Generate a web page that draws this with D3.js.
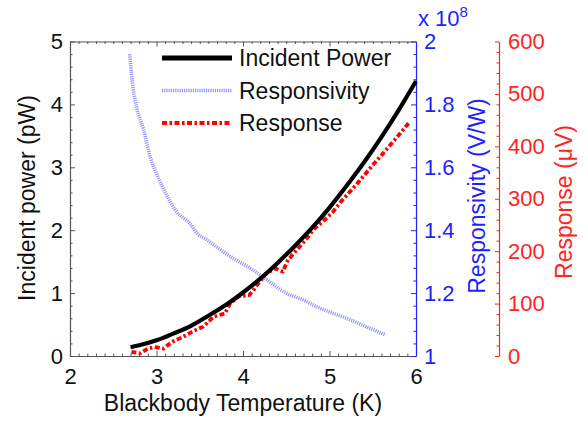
<!DOCTYPE html>
<html>
<head>
<meta charset="utf-8">
<script src="https://cdn.jsdelivr.net/npm/d3@7"></script>
<style>
  html, body { margin: 0; padding: 0; background: #fff; }
  svg { display: block; font-family: "Liberation Sans", Arial, Helvetica, sans-serif; }
</style>
</head>
<body>
<svg id="chart" width="588" height="424"></svg>
<script>
// Incident blackbody power (pW)
const powerTemps = [2.7, 2.8, 3.0, 3.2, 3.4, 3.6, 3.8, 4.0, 4.2, 4.4, 4.6, 4.8, 5.0, 5.2, 5.4, 5.6, 5.8, 6.0];
const powerValues = [0.14, 0.17, 0.25, 0.36, 0.48, 0.64, 0.81, 1.01, 1.23, 1.48, 1.75, 2.04, 2.36, 2.71, 3.08, 3.48, 3.91, 4.37];

// Responsivity (x 10^8 V/W)
const respTemps = [2.69, 2.73, 2.77, 2.85, 2.93, 3.0, 3.12, 3.23, 3.39, 3.47, 3.58, 3.73, 3.89, 4.05, 4.2, 4.5, 4.7, 4.85, 5.05, 5.25, 5.45, 5.65];
const respValues = [1.96, 1.85, 1.79, 1.72, 1.63, 1.58, 1.51, 1.46, 1.42, 1.39, 1.37, 1.34, 1.31, 1.285, 1.258, 1.20, 1.178, 1.157, 1.135, 1.114, 1.09, 1.067];

// Measured response (µV)
const signalTemps = [2.71, 2.81, 2.9, 2.98, 3.08, 3.18, 3.3, 3.41, 3.54, 3.66, 3.79, 3.85, 3.95, 4.07, 4.12, 4.16, 4.27, 4.38, 4.46, 4.52, 4.62, 4.72, 4.82, 4.92, 5.04, 5.14, 5.3, 5.5, 5.7, 5.93];
const signalValues = [8, 5, 14, 17, 14, 27, 36, 46, 56, 75, 81, 100, 114, 116, 125, 135, 158, 167, 161, 183, 202, 221, 242, 256, 275, 296, 325, 364, 402, 447];

// Axis ticks
const xTicks = [2, 3, 4, 5, 6];
const powerTicks = [0, 1, 2, 3, 4, 5];
const respTicks = [1, 1.2, 1.4, 1.6, 1.8, 2];
const signalTicks = [0, 100, 200, 300, 400, 500, 600];

const legendLabels = ["Incident Power", "Responsivity", "Response"];

const svg = d3.select("#chart");
const plotLeft = 70, plotRight = 416, plotTop = 41.5, plotBottom = 356;
const tickFont = 22, titleFont = 23;

const x = d3.scaleLinear().domain([2, 6]).range([plotLeft, plotRight]);
const yP = d3.scaleLinear().domain([0, 5]).range([plotBottom, plotTop]);
const yR = d3.scaleLinear().domain([1, 2]).range([plotBottom, plotTop]);
const yS = d3.scaleLinear().domain([0, 600]).range([plotBottom, plotTop]);

const blue = "#1f1fff";
const red = "#ff2424";
const axisGray = "#555";

function minorValues(lo, hi, step, majors) {
  const out = [];
  for (let v = lo; v <= hi + 1e-9; v += step) {
    const r = Math.round(v * 1000) / 1000;
    if (!majors.some(m => Math.abs(m - r) < 1e-6)) out.push(r);
  }
  return out;
}

function styleAxis(g, color) {
  g.select(".domain").attr("stroke", color).attr("stroke-width", 1.2);
  g.selectAll(".tick line").attr("stroke", color).attr("stroke-width", 1);
  g.selectAll(".tick text").attr("fill", color).style("font-size", tickFont + "px")
    .style("font-family", "'Liberation Sans', Arial, sans-serif");
}

function minorAxis(axis, translate, color) {
  svg.append("g").attr("transform", translate)
    .call(axis.tickFormat("").tickSizeInner(-2.5).tickSizeOuter(0))
    .call(g => { g.select(".domain").remove(); g.selectAll("line").attr("stroke", color); });
}

// Bottom axis
const gx = svg.append("g").attr("transform", `translate(0,${plotBottom})`)
  .call(d3.axisBottom(x).tickValues(xTicks).tickFormat(d3.format("d")).tickSizeInner(-5).tickSizeOuter(0).tickPadding(12));
styleAxis(gx, axisGray);
gx.selectAll(".tick text").attr("fill", "#111");
minorAxis(d3.axisBottom(x).tickValues(minorValues(2, 6, 0.1, xTicks)), `translate(0,${plotBottom})`, axisGray);

// Top border
const gt = svg.append("g").attr("transform", `translate(0,${plotTop})`)
  .call(d3.axisTop(x).tickValues(xTicks).tickFormat("").tickSizeInner(-5).tickSizeOuter(0));
styleAxis(gt, axisGray);
minorAxis(d3.axisTop(x).tickValues(minorValues(2, 6, 0.1, xTicks)), `translate(0,${plotTop})`, axisGray);

// Left axis: incident power
const gl = svg.append("g").attr("transform", `translate(${plotLeft},0)`)
  .call(d3.axisLeft(yP).tickValues(powerTicks).tickFormat(d3.format("d")).tickSizeInner(-5).tickSizeOuter(0).tickPadding(7));
styleAxis(gl, axisGray);
gl.selectAll(".tick text").attr("fill", "#111");
minorAxis(d3.axisLeft(yP).tickValues(minorValues(0, 5, 0.2, powerTicks)), `translate(${plotLeft},0)`, axisGray);

// Right axis: responsivity
const gr = svg.append("g").attr("transform", `translate(${plotRight},0)`)
  .call(d3.axisRight(yR).tickValues(respTicks).tickFormat(d => String(+d.toFixed(1))).tickSizeInner(-5).tickSizeOuter(0).tickPadding(8));
styleAxis(gr, blue);
minorAxis(d3.axisRight(yR).tickValues(minorValues(1, 2, 0.04, respTicks)), `translate(${plotRight},0)`, blue);

// Outer axis: response
const gs = svg.append("g").attr("transform", `translate(499,0)`)
  .call(d3.axisRight(yS).tickValues(signalTicks).tickFormat(d3.format("d")).tickSizeInner(-4).tickSizeOuter(0).tickPadding(9));
styleAxis(gs, red);
minorAxis(d3.axisRight(yS).tickValues(minorValues(0, 600, 20, signalTicks)), `translate(499,0)`, red);

// Exponent label for the responsivity axis
const expo = svg.append("text").attr("x", 418).attr("y", 26).attr("fill", blue)
  .style("font-size", tickFont + "px");
expo.append("tspan").text("x 10");
expo.append("tspan").attr("dy", -9).style("font-size", "15px").text("8");

// Axis titles
svg.append("text").attr("x", (plotLeft + plotRight) / 2).attr("y", 411).attr("text-anchor", "middle")
  .attr("fill", "#111").style("font-size", titleFont + "px").text("Blackbody Temperature (K)");
svg.append("text").attr("transform", "translate(35,198) rotate(-90)").attr("text-anchor", "middle")
  .attr("fill", "#111").style("font-size", titleFont + "px").text("Incident power (pW)");
svg.append("text").attr("transform", "translate(485,196) rotate(-90)").attr("text-anchor", "middle")
  .attr("fill", blue).style("font-size", titleFont + "px").text("Responsivity (V/W)");
svg.append("text").attr("transform", "translate(572,202) rotate(-90)").attr("text-anchor", "middle")
  .attr("fill", red).style("font-size", titleFont + "px").text("Response (\u03bcV)");

// Series
const styles = [
  { stroke: "#000", width: 4.2, dash: null, opacity: 1 },
  { stroke: "#7676ff", width: 3.6, dash: "1.2,1", opacity: 0.75 },
  { stroke: "#ff0000", width: 3.8, dash: "5,2.5,2.5,2.5", opacity: 1 }
];

const powerLine = d3.line().x((d, i) => x(powerTemps[i])).y(d => yP(d)).curve(d3.curveMonotoneX);
const respLine = d3.line().x((d, i) => x(respTemps[i])).y(d => yR(d)).curve(d3.curveMonotoneX);
const signalLine = d3.line().x((d, i) => x(signalTemps[i])).y(d => yS(d));

function drawPath(d, s) {
  svg.append("path").attr("d", d).attr("fill", "none").attr("stroke", s.stroke)
    .attr("stroke-width", s.width).attr("stroke-dasharray", s.dash).attr("opacity", s.opacity)
    .attr("stroke-linejoin", "round");
}
drawPath(respLine(respValues), styles[1]);
drawPath(signalLine(signalValues), styles[2]);
drawPath(powerLine(powerValues), styles[0]);

// Legend
const legend = svg.append("g");
legendLabels.forEach((label, i) => {
  const ly = 58 + i * 32.5;
  legend.append("line").attr("x1", 162).attr("x2", 232).attr("y1", ly).attr("y2", ly)
    .attr("stroke", styles[i].stroke).attr("stroke-width", i === 0 ? 4.8 : styles[i].width)
    .attr("stroke-dasharray", styles[i].dash).attr("opacity", styles[i].opacity);
  legend.append("text").attr("x", 239).attr("y", ly + 8).attr("fill", "#111")
    .style("font-size", titleFont + "px").text(label);
});
</script>
</body>
</html>
